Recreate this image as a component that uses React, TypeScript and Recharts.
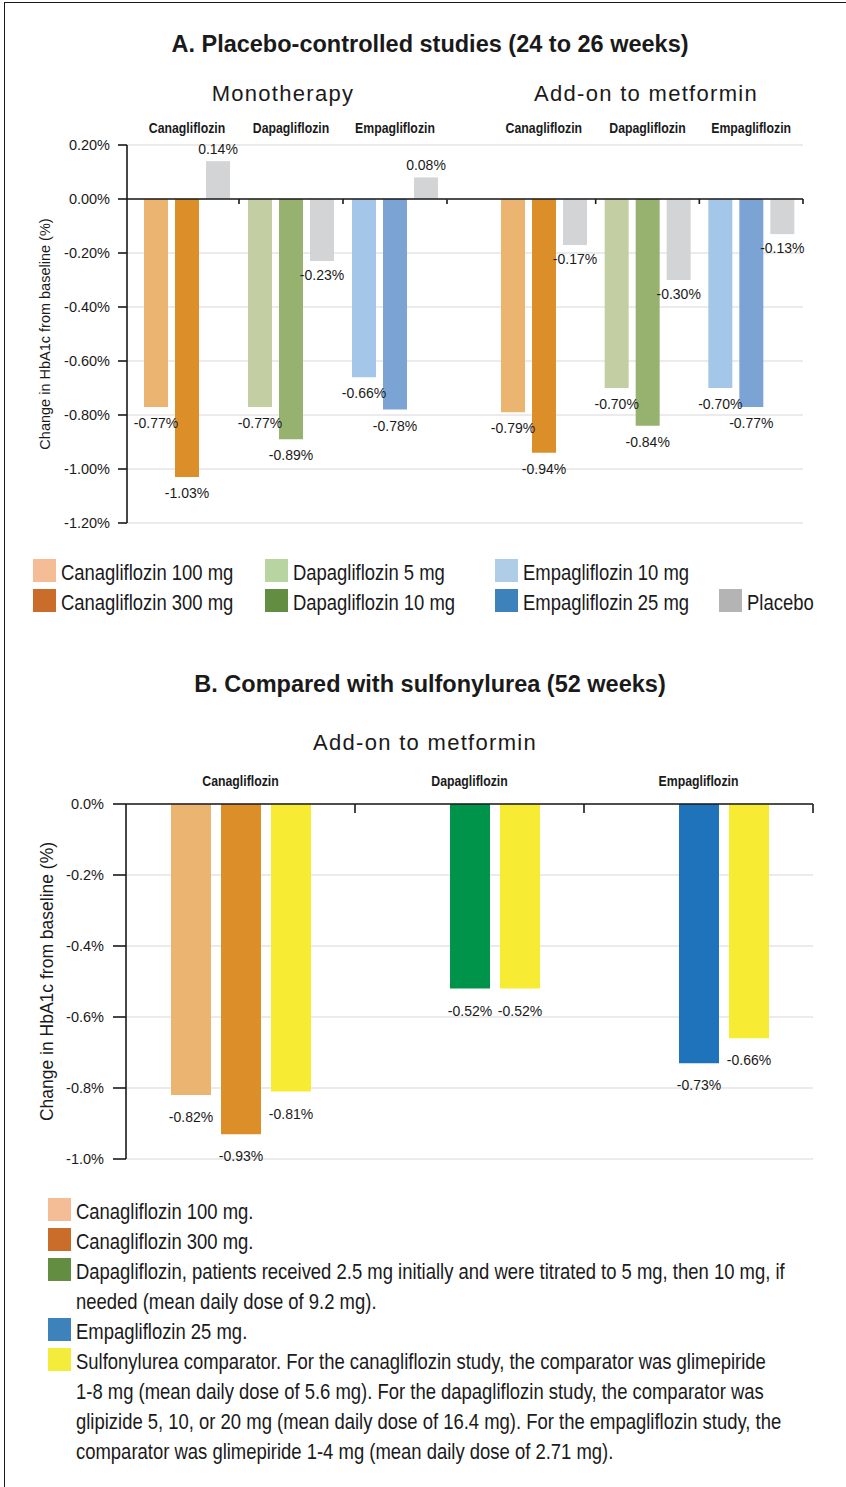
import {
  Bar,
  BarChart,
  CartesianGrid,
  Cell,
  LabelList,
  ReferenceLine,
  XAxis,
  YAxis,
} from 'recharts'
import type { CSSProperties } from 'react'

const drugs = ['Canagliflozin', 'Dapagliflozin', 'Empagliflozin']

// A. placebo-controlled studies (24 to 26 weeks), change in HbA1c (%)
const monoLowDose = [-0.77, -0.77, -0.66]
const monoHighDose = [-1.03, -0.89, -0.78]
const monoPlacebo = [0.14, -0.23, 0.08]
const addonLowDose = [-0.79, -0.7, -0.7]
const addonHighDose = [-0.94, -0.84, -0.77]
const addonPlacebo = [-0.17, -0.3, -0.13]
const ticksA = [0.2, 0, -0.2, -0.4, -0.6, -0.8, -1.0, -1.2]

// B. compared with sulfonylurea (52 weeks)
const suFirst = [-0.82, null, null]
const suSecond = [-0.93, -0.52, -0.73]
const suComparator = [-0.81, -0.52, -0.66]
const ticksB = [0, -0.2, -0.4, -0.6, -0.8, -1.0]

const lowColors = ['#EBB470', '#C3CEA2', '#A3C6E9']
const highColors = ['#DC8F29', '#97B26F', '#7BA4D5']
const PLACEBO = '#D3D4D6'
const firstColors = ['#EBB470', '#EBB470', '#EBB470']
const secondColors = ['#DC8F29', '#00944A', '#1F73BB']
const YELLOW = '#F7EC33'

const legendA: Array<[string, string] | null> = [
  ['Canagliflozin 100 mg', '#F4BD96'],
  ['Dapagliflozin 5 mg', '#B8D4A0'],
  ['Empagliflozin 10 mg', '#AFCDE7'],
  null,
  ['Canagliflozin 300 mg', '#CA6D2B'],
  ['Dapagliflozin 10 mg', '#638E42'],
  ['Empagliflozin 25 mg', '#3D82BA'],
  ['Placebo', '#B4B4B4'],
]

const legendB: Array<{ color: string; lines: string[] }> = [
  { color: '#F4BD96', lines: ['Canagliflozin 100 mg.'] },
  { color: '#CA6D2B', lines: ['Canagliflozin 300 mg.'] },
  {
    color: '#638E42',
    lines: [
      'Dapagliflozin, patients received 2.5 mg initially and were titrated to 5 mg, then 10 mg, if',
      'needed (mean daily dose of 9.2 mg).',
    ],
  },
  { color: '#3D82BA', lines: ['Empagliflozin 25 mg.'] },
  {
    color: '#F3EC3A',
    lines: [
      'Sulfonylurea comparator. For the canagliflozin study, the comparator was glimepiride',
      '1-8 mg (mean daily dose of 5.6 mg). For the dapagliflozin study, the comparator was',
      'glipizide 5, 10, or 20 mg (mean daily dose of 16.4 mg). For the empagliflozin study, the',
      'comparator was glimepiride 1-4 mg (mean daily dose of 2.71 mg).',
    ],
  },
]

const SANS = "'Liberation Sans', Arial, sans-serif"
const INK = '#1a1a1a'
// no condensed face installed, so squeeze the regular one
const SQUEEZE = 0.82

const rowsOf = (a: Array<number | null>, b: number[], c: number[]) =>
  drugs.map((drug, i) => ({ drug, a: a[i], b: b[i], c: c[i] }))

const monoRows = rowsOf(monoLowDose, monoHighDose, monoPlacebo)
const addonRows = rowsOf(addonLowDose, addonHighDose, addonPlacebo)
const suRows = rowsOf(suFirst, suSecond, suComparator)

function valueLabel(gap: number) {
  return (props: any) => {
    const { value } = props
    if (value === null || value === undefined) return null
    const x = Number(props.x)
    const y = Number(props.y)
    const w = Number(props.width)
    const h = Number(props.height)
    const top = Math.min(y, y + h)
    const bottom = Math.max(y, y + h)
    return (
      <text
        x={x + w / 2}
        y={value >= 0 ? top - gap + 2 : bottom + gap}
        textAnchor="middle"
        dominantBaseline="central"
        fontSize={14}
        fontFamily={SANS}
        fill={INK}
      >
        {`${Number(value).toFixed(2)}%`}
      </text>
    )
  }
}

// group name above the plot + the category boundary tick on the zero line
function groupTick(labelGap: number, zeroDrop: number, markLen: number) {
  return (props: any) => {
    const { x, y, payload } = props
    const edge = x + (payload.offset ?? 0)
    return (
      <g>
        <g transform={`translate(${x},${y - labelGap}) scale(${SQUEEZE},1)`}>
          <text
            x={0}
            y={0}
            textAnchor="middle"
            dominantBaseline="central"
            fontFamily={SANS}
            fontWeight={700}
            fontSize={15}
            fill={INK}
          >
            {payload.value}
          </text>
        </g>
        <line
          x1={edge}
          x2={edge}
          y1={y + zeroDrop}
          y2={y + zeroDrop + markLen}
          stroke={INK}
          strokeWidth={1.6}
        />
      </g>
    )
  }
}

const PLOT_A = 378
const HEAD_A = 28
const PLOT_B = 355
const HEAD_B = 32

function PanelA({
  rows,
  left,
  width,
  axisWidth,
  padLeft,
  rightMargin,
}: {
  rows: typeof monoRows
  left: number
  width: number
  axisWidth: number
  padLeft: number
  rightMargin: number
}) {
  const showAxis = axisWidth > 0
  return (
    <div style={{ position: 'absolute', left, top: 145 - HEAD_A }}>
      <BarChart
        width={width}
        height={HEAD_A + PLOT_A + 14}
        data={rows}
        margin={{ top: 0, right: rightMargin, bottom: 14, left: 0 }}
        barSize={24}
        barGap={7}
      >
        <CartesianGrid vertical={false} stroke="#E4E4E4" strokeWidth={1.5} />
        <XAxis
          dataKey="drug"
          orientation="top"
          height={HEAD_A}
          axisLine={false}
          tickLine={false}
          tickSize={0}
          tickMargin={0}
          interval={0}
          padding={{ left: padLeft, right: 0 }}
          tick={groupTick(17, PLOT_A * (0.2 / 1.4), 5)}
        />
        <YAxis
          type="number"
          domain={[-1.2, 0.2]}
          ticks={ticksA}
          interval={0}
          hide={!showAxis}
          width={axisWidth}
          axisLine={{ stroke: INK, strokeWidth: 1.6 }}
          tickLine={{ stroke: INK, strokeWidth: 1.6 }}
          tickSize={9}
          tickMargin={8}
          tick={{ fill: INK, fontSize: 14.5, fontFamily: SANS }}
          tickFormatter={(v: number) => `${v.toFixed(2)}%`}
          label={{
            value: 'Change in HbA1c from baseline (%)',
            angle: -90,
            position: 'insideLeft',
            offset: 45,
            style: { textAnchor: 'middle', fontSize: 14.5, fill: INK, fontFamily: SANS },
          }}
        />
        <Bar dataKey="a" isAnimationActive={false}>
          {rows.map((_, i) => (
            <Cell key={i} fill={lowColors[i]} />
          ))}
          <LabelList dataKey="a" content={valueLabel(16)} />
        </Bar>
        <Bar dataKey="b" isAnimationActive={false}>
          {rows.map((_, i) => (
            <Cell key={i} fill={highColors[i]} />
          ))}
          <LabelList dataKey="b" content={valueLabel(16)} />
        </Bar>
        <Bar dataKey="c" fill={PLACEBO} isAnimationActive={false}>
          <LabelList dataKey="c" content={valueLabel(14)} />
        </Bar>
        <ReferenceLine y={0} stroke={INK} strokeWidth={1.6} />
      </BarChart>
    </div>
  )
}

function Heading({ x, y, text, style }: { x: number; y: number; text: string; style?: CSSProperties }) {
  return (
    <div
      style={{
        position: 'absolute',
        left: x,
        top: y,
        transform: 'translate(-50%, -50%)',
        whiteSpace: 'nowrap',
        fontFamily: SANS,
        color: INK,
        ...style,
      }}
    >
      {text}
    </div>
  )
}

const titleStyle: CSSProperties = { fontSize: 23.5, fontWeight: 700 }
const subStyle: CSSProperties = { fontSize: 22, letterSpacing: 1.3 }
const squeezed: CSSProperties = {
  display: 'inline-block',
  whiteSpace: 'nowrap',
  transform: `scaleX(${SQUEEZE})`,
  transformOrigin: 'left center',
}

export default function App() {
  return (
    <div
      style={{
        position: 'absolute',
        left: 0,
        top: 0,
        width: 846,
        height: 1487,
        overflow: 'hidden',
        background: '#fff',
        fontFamily: SANS,
      }}
    >
      <div
        style={{
          position: 'absolute',
          left: 4,
          top: 2,
          width: 900,
          height: 1500,
          border: `1.5px solid ${INK}`,
        }}
      />

      <Heading x={430} y={44} text="A. Placebo-controlled studies (24 to 26 weeks)" style={titleStyle} />
      <Heading x={283} y={94} text="Monotherapy" style={subStyle} />
      <Heading x={646} y={94} text="Add-on to metformin" style={subStyle} />

      <PanelA rows={monoRows} left={0} width={450} axisWidth={127} padLeft={8} rightMargin={3} />
      <PanelA rows={addonRows} left={447} width={360} axisWidth={0} padLeft={45} rightMargin={4} />

      <div
        style={{
          position: 'absolute',
          left: 33,
          top: 559,
          display: 'grid',
          gridTemplateColumns: '232px 230px 224px 100px',
          gridAutoRows: '30px',
          fontSize: 22.5,
          color: INK,
        }}
      >
        {legendA.map((item, i) =>
          item ? (
            <div key={i} style={{ display: 'flex', alignItems: 'center', height: 23 }}>
              <span style={{ width: 23, height: 23, background: item[1], marginRight: 5, flex: 'none' }} />
              <span style={{ ...squeezed, position: 'relative', top: 2 }}>{item[0]}</span>
            </div>
          ) : (
            <div key={i} />
          ),
        )}
      </div>

      <Heading x={430} y={684} text="B. Compared with sulfonylurea (52 weeks)" style={titleStyle} />
      <Heading x={425} y={743} text="Add-on to metformin" style={subStyle} />

      <div style={{ position: 'absolute', left: 0, top: 804 - HEAD_B }}>
        <BarChart
          width={820}
          height={HEAD_B + PLOT_B + 14}
          data={suRows}
          margin={{ top: 0, right: 7, bottom: 14, left: 0 }}
          barSize={40}
          barGap={10}
        >
          <CartesianGrid vertical={false} stroke="#E4E4E4" strokeWidth={1.5} />
          <XAxis
            dataKey="drug"
            orientation="top"
            height={HEAD_B}
            axisLine={false}
            tickLine={false}
            tickSize={0}
            tickMargin={0}
            interval={0}
            tick={groupTick(23, 0, 9)}
          />
          <YAxis
            type="number"
            domain={[-1, 0]}
            ticks={ticksB}
            interval={0}
            width={126}
            axisLine={{ stroke: INK, strokeWidth: 1.6 }}
            tickLine={{ stroke: INK, strokeWidth: 1.6 }}
            tickSize={13}
            tickMargin={9}
            tick={{ fill: INK, fontSize: 14.5, fontFamily: SANS }}
            tickFormatter={(v: number) => `${v.toFixed(1)}%`}
            label={{
              value: 'Change in HbA1c from baseline (%)',
              angle: -90,
              position: 'insideLeft',
              offset: 47,
              style: { textAnchor: 'middle', fontSize: 17.5, fill: INK, fontFamily: SANS },
            }}
          />
          <Bar dataKey="a" isAnimationActive={false}>
            {suRows.map((_, i) => (
              <Cell key={i} fill={firstColors[i]} />
            ))}
            <LabelList dataKey="a" content={valueLabel(22)} />
          </Bar>
          <Bar dataKey="b" isAnimationActive={false}>
            {suRows.map((_, i) => (
              <Cell key={i} fill={secondColors[i]} />
            ))}
            <LabelList dataKey="b" content={valueLabel(22)} />
          </Bar>
          <Bar dataKey="c" fill={YELLOW} isAnimationActive={false}>
            <LabelList dataKey="c" content={valueLabel(22)} />
          </Bar>
          <ReferenceLine y={0} stroke={INK} strokeWidth={1.6} />
        </BarChart>
      </div>

      <div
        style={{
          position: 'absolute',
          left: 48,
          top: 1197,
          fontSize: 22.5,
          lineHeight: '30px',
          color: INK,
        }}
      >
        {legendB.map((item, i) => (
          <div key={i} style={{ display: 'flex', alignItems: 'flex-start' }}>
            <span
              style={{ width: 23, height: 23, background: item.color, marginRight: 5, marginTop: 1, flex: 'none' }}
            />
            <div>
              {item.lines.map((line, j) => (
                <div key={j} style={{ height: 30 }}>
                  <span style={squeezed}>{line}</span>
                </div>
              ))}
            </div>
          </div>
        ))}
      </div>
    </div>
  )
}
